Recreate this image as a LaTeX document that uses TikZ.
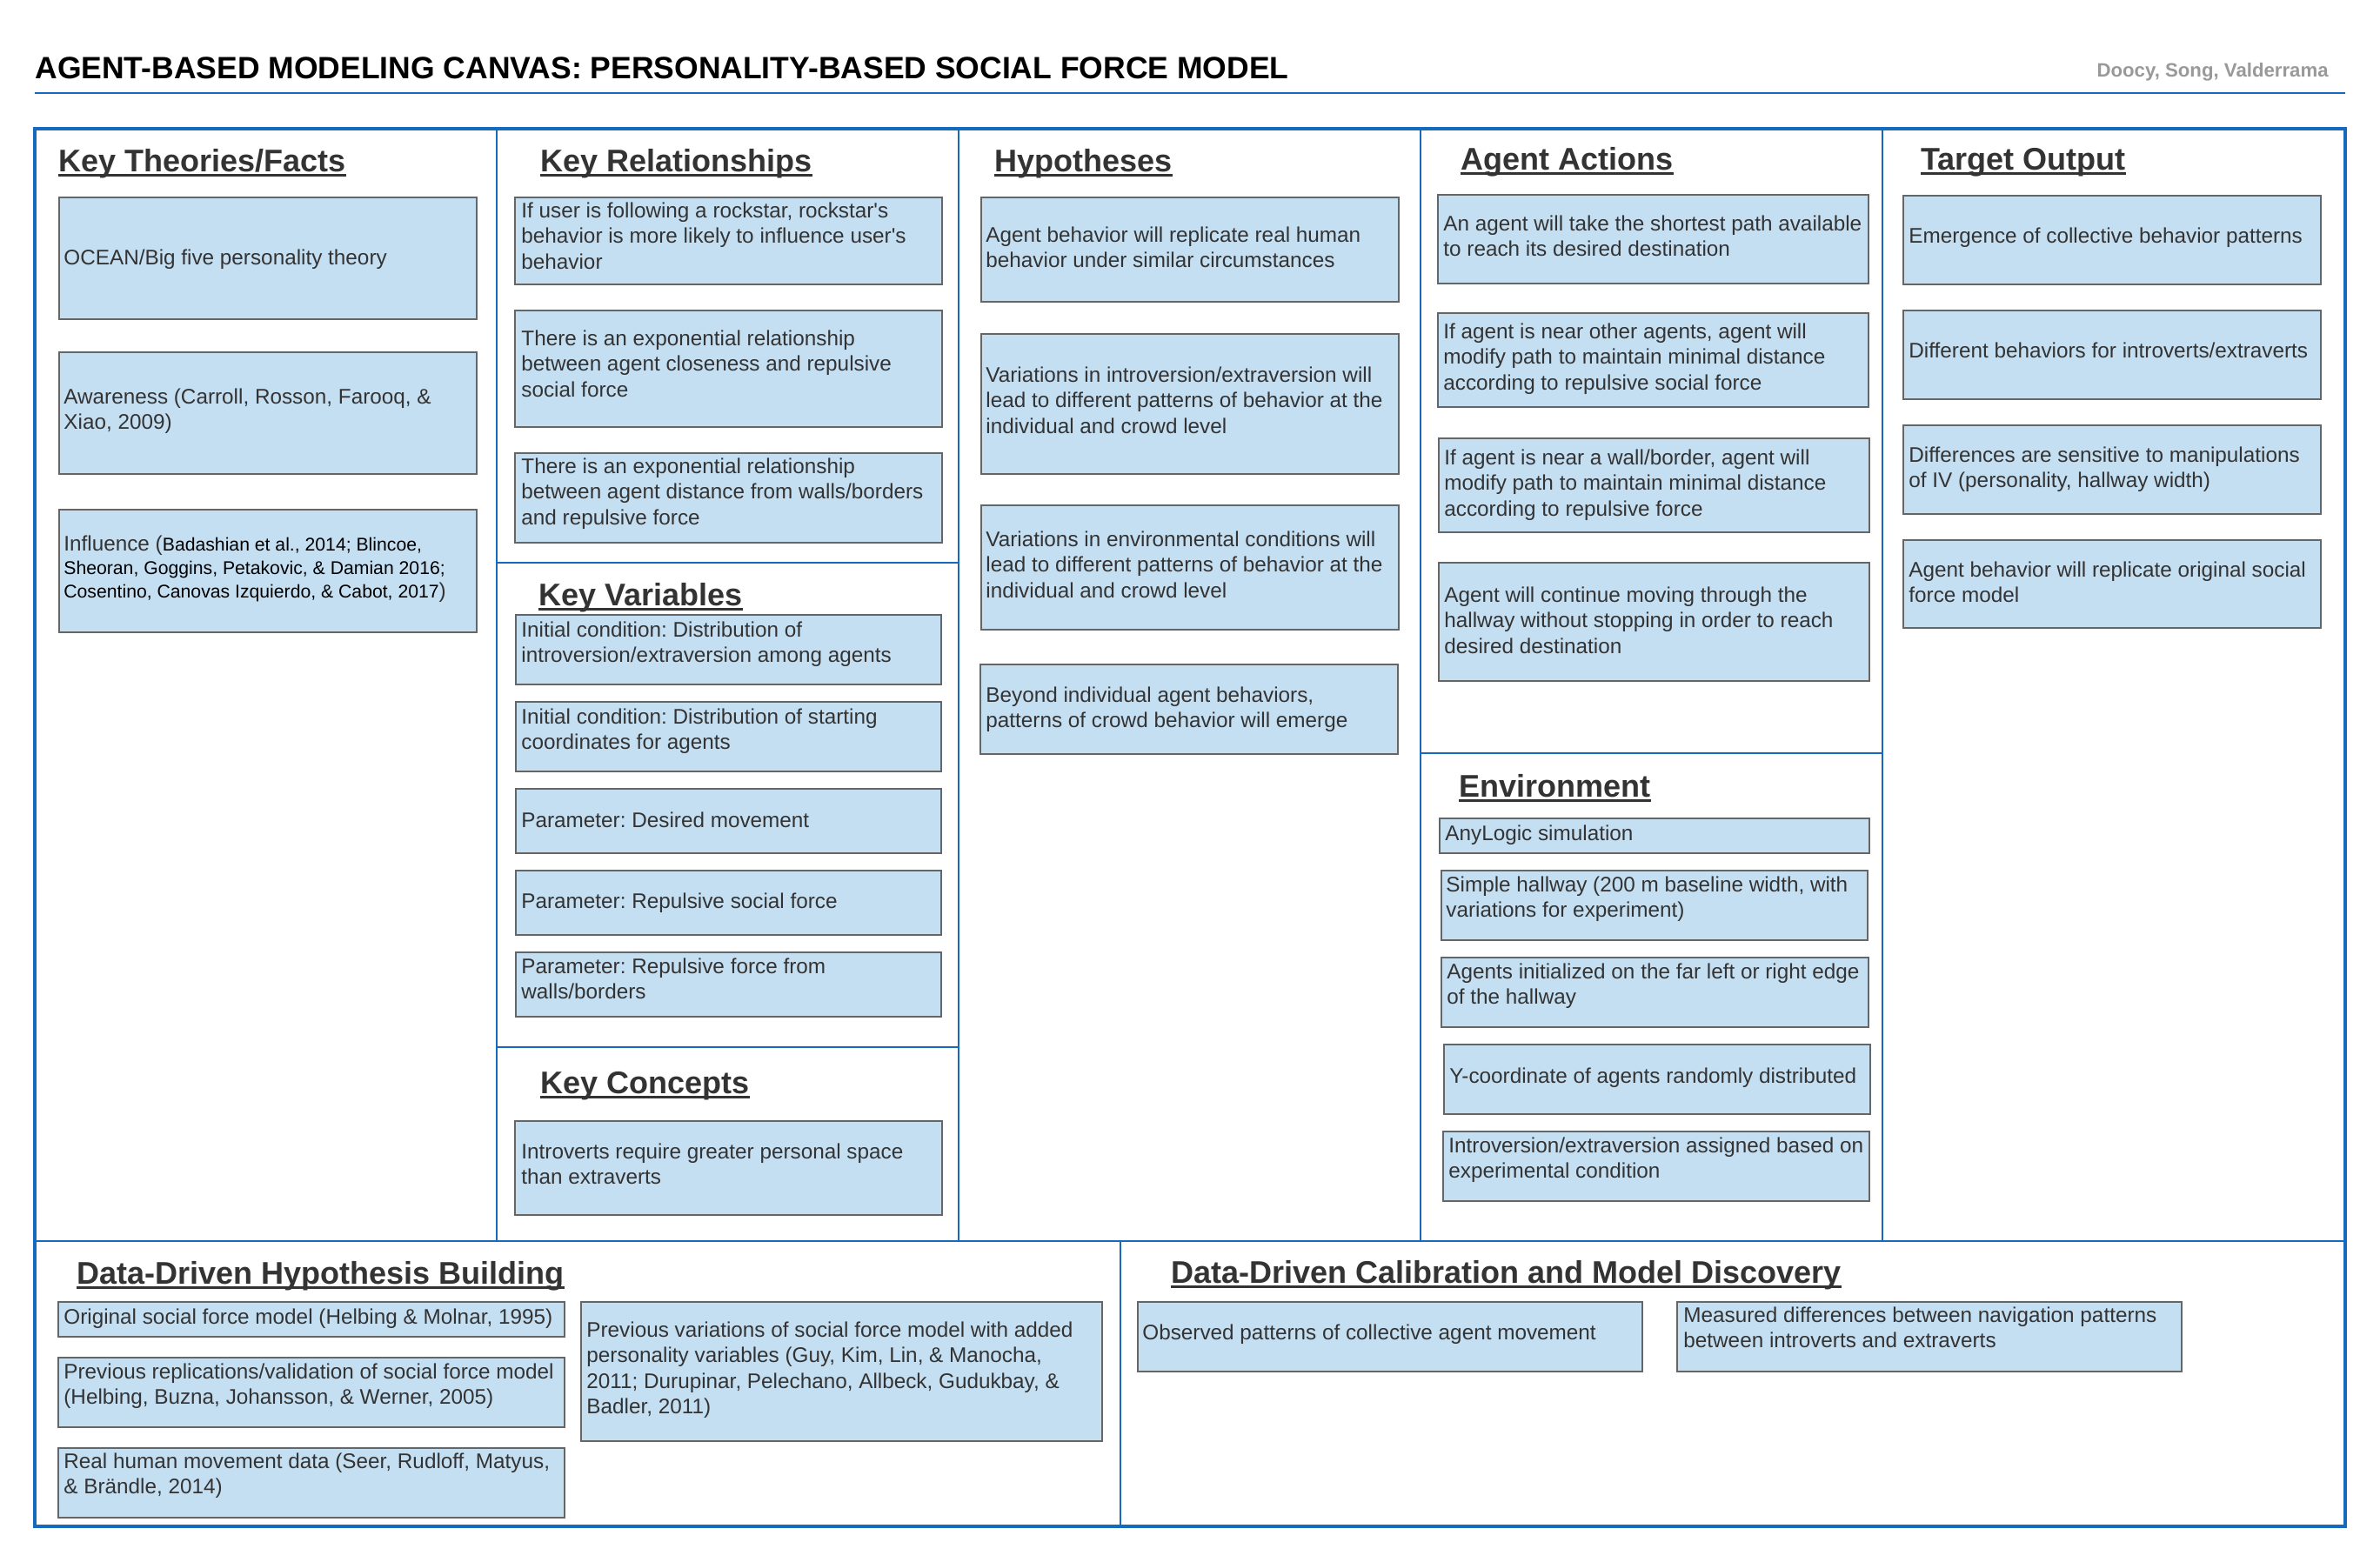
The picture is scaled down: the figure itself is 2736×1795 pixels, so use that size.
\documentclass[tikz,border=0pt]{standalone}
\usepackage{fontspec}
\setmainfont{Liberation Sans}[Ligatures=TeXOff]
\frenchspacing
\definecolor{canvasblue}{RGB}{21,106,190}
\definecolor{cardfill}{RGB}{197,223,242}
\definecolor{cardline}{RGB}{102,102,102}
\definecolor{bodytext}{RGB}{51,51,51}
\definecolor{authgray}{RGB}{153,153,153}
\newcommand{\bodyf}{\fontsize{12.15pt}{14.65pt}\selectfont}
\newcommand{\citef}{\fontsize{10.6pt}{13.5pt}\selectfont\color{black}}
\newcommand{\hdf}{\fontsize{18pt}{21pt}\selectfont\bfseries}
\newcommand{\cardbox}[5]{\node[card, minimum width={(#4-#2)*0.5pt}, minimum height={(#5-#3)*0.5pt}] (#1) at (#2,#3) {};}
\newcommand{\cardtxt}[4]{\node[txt] (#1) at (#2,{#3-22}) {\rule{0pt}{11pt}#4};}
\newcommand{\hdg}[4]{\node[hd] (#1) at (#2,#3) {#4};
  \draw[uline] ([yshift=-2pt]#1.base west) -- ([yshift=-2pt]#1.base east);}
\begin{document}
\begin{tikzpicture}[x=0.5pt,y=-0.5pt,
  card/.style={draw=cardline, fill=cardfill, line width=0.8pt, inner sep=0pt, outer sep=0pt, anchor=north west},
  txt/.style={inner sep=0pt, anchor=north west, align=left, text=bodytext, font=\bodyf},
  hd/.style={inner sep=0pt, anchor=base west, font=\hdf, text=bodytext},
  uline/.style={draw=bodytext, line width=1.5pt},
  frame/.style={draw=canvasblue, line width=2.25pt},
  divider/.style={draw=canvasblue, line width=1.25pt}]
\useasboundingbox (0,0) rectangle (2736,1795);
\fill[white] (0,0) rectangle (2736,1795);

% header
\node[anchor=base west, inner sep=0pt, font=\fontsize{17.75pt}{20pt}\selectfont\bfseries] (title) at (40,90) {AGENT-BASED MODELING CANVAS: PERSONALITY-BASED SOCIAL FORCE MODEL};
\node[anchor=base east, inner sep=0pt, font=\fontsize{11.1pt}{13pt}\selectfont\bfseries, text=authgray] (auth) at (2677,88) {Doocy, Song, Valderrama};
\draw[divider] (40,107) -- (2696,107);

% canvas grid
\draw[divider] (571,148) -- (571,1427);
\draw[divider] (1102,148) -- (1102,1427);
\draw[divider] (1633,148) -- (1633,1427);
\draw[divider] (2164,148) -- (2164,1427);
\draw[divider] (40,1427) -- (2696,1427);
\draw[divider] (1288,1427) -- (1288,1755);
\draw[divider] (571,647) -- (1102,647);
\draw[divider] (571,1204) -- (1102,1204);
\draw[divider] (1633,866) -- (2164,866);
\draw[frame] (40,148) rectangle (2696,1755);

% headings
\hdg{hkt}{67}{197}{Key Theories/Facts}
\hdg{hkr}{621}{197}{Key Relationships}
\hdg{hkv}{619}{696}{Key Variables}
\hdg{hkc}{621}{1257}{Key Concepts}
\hdg{hhy}{1143}{197}{Hypotheses}
\hdg{haa}{1679}{195}{Agent Actions}
\hdg{hen}{1677}{916}{Environment}
\hdg{hto}{2208}{195}{Target Output}
\hdg{hdh}{88}{1476}{Data-Driven Hypothesis Building}
\hdg{hdc}{1346}{1475}{Data-Driven Calibration and Model Discovery}

% Key Theories/Facts
\cardbox{k1}{68}{227}{548}{367}
\cardtxt{k1t}{73}{304}{OCEAN/Big five personality theory}
\cardbox{k2}{68}{405}{548}{545}
\cardtxt{k2t}{73}{464}{Awareness (Carroll, Rosson, Farooq, \&\\Xiao, 2009)}
\cardbox{k3}{68}{586}{548}{727}
\node[txt, font=\fontsize{12.15pt}{13.5pt}\selectfont] (k3t) at (73,{633-22}) {\rule{0pt}{11pt}Influence ({\citef Badashian et al., 2014; Blincoe,}\\{\citef Sheoran, Goggins, Petakovic, \& Damian 2016;}\\{\citef Cosentino, Canovas Izquierdo, \& Cabot, 2017})};

% Key Relationships
\cardbox{r1}{592}{227}{1083}{327}
\cardtxt{r1t}{599}{250}{If user is following a rockstar, rockstar's\\behavior is more likely to influence user's\\behavior}
\cardbox{r2}{592}{357}{1083}{491}
\cardtxt{r2t}{599}{397}{There is an exponential relationship\\between agent closeness and repulsive\\social force}
\cardbox{r3}{592}{521}{1083}{624}
\cardtxt{r3t}{599}{544}{There is an exponential relationship\\between agent distance from walls/borders\\and repulsive force}

% Key Variables
\cardbox{v1}{593}{707}{1082}{787}
\cardtxt{v1t}{599}{732}{Initial condition: Distribution of\\introversion/extraversion among agents}
\cardbox{v2}{593}{807}{1082}{887}
\cardtxt{v2t}{599}{832}{Initial condition: Distribution of starting\\coordinates for agents}
\cardbox{v3}{593}{907}{1082}{981}
\cardtxt{v3t}{599}{951}{Parameter: Desired movement}
\cardbox{v4}{593}{1001}{1082}{1075}
\cardtxt{v4t}{599}{1044}{Parameter: Repulsive social force}
\cardbox{v5}{593}{1095}{1082}{1169}
\cardtxt{v5t}{599}{1119}{Parameter: Repulsive force from\\walls/borders}

% Key Concepts
\cardbox{c1}{592}{1289}{1083}{1397}
\cardtxt{c1t}{599}{1332}{Introverts require greater personal space\\than extraverts}

% Hypotheses
\cardbox{h1}{1128}{227}{1608}{347}
\cardtxt{h1t}{1133}{278}{Agent behavior will replicate real human\\behavior under similar circumstances}
\cardbox{h2}{1128}{384}{1608}{545}
\cardtxt{h2t}{1133}{439}{Variations in introversion/extraversion will\\lead to different patterns of behavior at the\\individual and crowd level}
\cardbox{h3}{1128}{581}{1608}{724}
\cardtxt{h3t}{1133}{628}{Variations in environmental conditions will\\lead to different patterns of behavior at the\\individual and crowd level}
\cardbox{h4}{1127}{764}{1607}{867}
\cardtxt{h4t}{1133}{807}{Beyond individual agent behaviors,\\patterns of crowd behavior will emerge}

% Agent Actions
\cardbox{a1}{1653}{224}{2148}{326}
\cardtxt{a1t}{1659}{265}{An agent will take the shortest path available\\to reach its desired destination}
\cardbox{a2}{1653}{360}{2148}{468}
\cardtxt{a2t}{1659}{389}{If agent is near other agents, agent will\\modify path to maintain minimal distance\\according to repulsive social force}
\cardbox{a3}{1654}{504}{2149}{612}
\cardtxt{a3t}{1660}{534}{If agent is near a wall/border, agent will\\modify path to maintain minimal distance\\according to repulsive force}
\cardbox{a4}{1654}{647}{2149}{783}
\cardtxt{a4t}{1660}{692}{Agent will continue moving through the\\hallway without stopping in order to reach\\desired destination}

% Environment
\cardbox{e1}{1655}{941}{2149}{981}
\cardtxt{e1t}{1661}{966}{AnyLogic simulation}
\cardbox{e2}{1657}{1001}{2147}{1081}
\cardtxt{e2t}{1662}{1025}{Simple hallway (200 m baseline width, with\\variations for experiment)}
\cardbox{e3}{1657}{1101}{2148}{1181}
\cardtxt{e3t}{1663}{1125}{Agents initialized on the far left or right edge\\of the hallway}
\cardbox{e4}{1660}{1201}{2150}{1281}
\cardtxt{e4t}{1666}{1245}{Y-coordinate of agents randomly distributed}
\cardbox{e5}{1659}{1301}{2149}{1381}
\cardtxt{e5t}{1665}{1325}{Introversion/extraversion assigned based on\\experimental condition}

% Target Output
\cardbox{t1}{2188}{225}{2668}{327}
\cardtxt{t1t}{2194}{279}{Emergence of collective behavior patterns}
\cardbox{t2}{2188}{357}{2668}{459}
\cardtxt{t2t}{2194}{411}{Different behaviors for introverts/extraverts}
\cardbox{t3}{2188}{489}{2668}{591}
\cardtxt{t3t}{2194}{531}{Differences are sensitive to manipulations\\of IV (personality, hallway width)}
\cardbox{t4}{2188}{621}{2668}{722}
\cardtxt{t4t}{2194}{663}{Agent behavior will replicate original social\\force model}

% Data-Driven Hypothesis Building
\cardbox{d1}{67}{1497}{649}{1537}
\cardtxt{d1t}{73}{1522}{Original social force model (Helbing \& Molnar, 1995)}
\cardbox{d2}{67}{1561}{649}{1641}
\cardtxt{d2t}{73}{1585}{Previous replications/validation of social force model\\(Helbing, Buzna, Johansson, \& Werner, 2005)}
\cardbox{d3}{67}{1665}{649}{1745}
\cardtxt{d3t}{73}{1688}{Real human movement data (Seer, Rudloff, Matyus,\\\& Brändle, 2014)}
\cardbox{d4}{668}{1497}{1267}{1657}
\cardtxt{d4t}{674}{1537}{Previous variations of social force model with added\\personality variables (Guy, Kim, Lin, \& Manocha,\\2011; Durupinar, Pelechano, Allbeck, Gudukbay, \&\\Badler, 2011)}

% Data-Driven Calibration and Model Discovery
\cardbox{o1}{1308}{1497}{1888}{1577}
\cardtxt{o1t}{1313}{1540}{Observed patterns of collective agent movement}
\cardbox{o2}{1928}{1497}{2508}{1577}
\cardtxt{o2t}{1935}{1520}{Measured differences between navigation patterns\\between introverts and extraverts}
\end{tikzpicture}
\end{document}
